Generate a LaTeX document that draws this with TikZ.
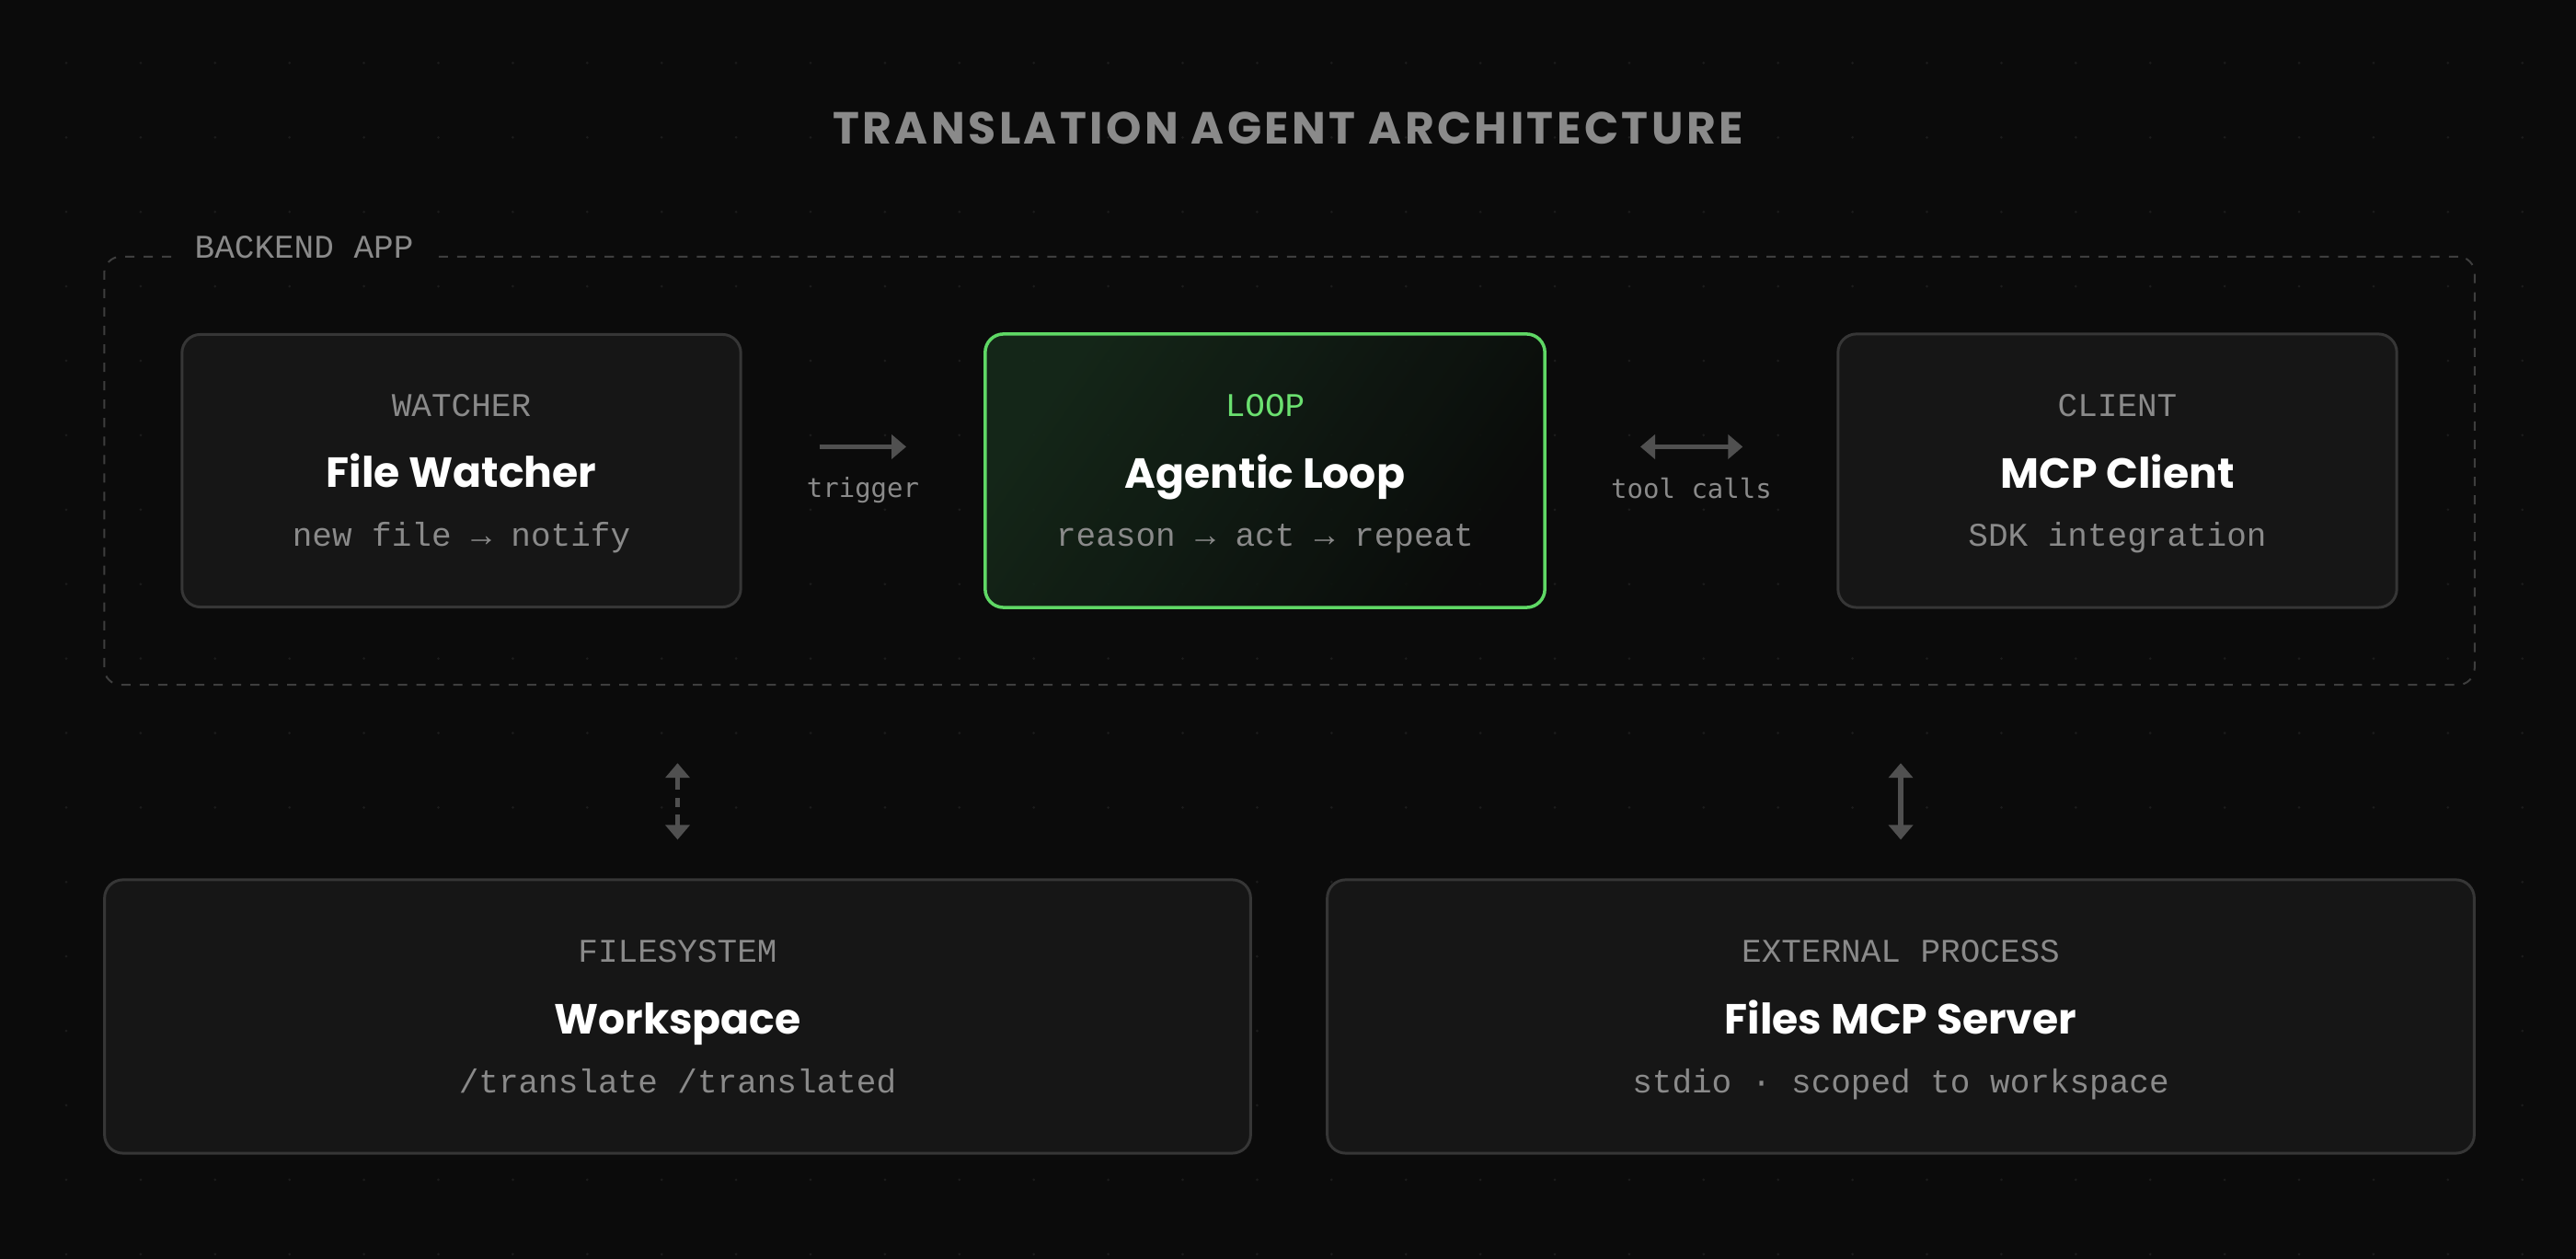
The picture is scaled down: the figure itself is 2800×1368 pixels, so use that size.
\documentclass[tikz,border=0pt]{standalone}
\usepackage{fontspec}
\usetikzlibrary{arrows.meta}
\newfontfamily\headfont{Poppins}
\newfontfamily\titlefont[LetterSpace=7]{Poppins}
\newfontfamily\labfont{Liberation Mono}
\newfontfamily\codefont{DejaVu Sans Mono}
\definecolor{bg}{HTML}{0B0B0B}
\definecolor{dotc}{HTML}{1C1C1C}
\definecolor{boxfill}{HTML}{161616}
\definecolor{boxline}{HTML}{363636}
\definecolor{dashc}{HTML}{3E3E3E}
\definecolor{txtgray}{HTML}{8A8A8A}
\definecolor{arrowc}{HTML}{505050}
\definecolor{loopgreen}{HTML}{5FD865}
\definecolor{looptext}{HTML}{6BE070}
\definecolor{loopA}{HTML}{15291A}
\definecolor{loopM}{HTML}{0F160F}
\definecolor{loopB}{HTML}{0B0C0B}
\tikzset{
  card/.style={draw=boxline, line width=0.85pt, fill=boxfill, rounded corners=0.2cm, inner sep=0pt},
  tag/.style={text=txtgray, font=\labfont\fontsize{10.24pt}{12pt}\selectfont, anchor=base, inner sep=0pt},
  ttl/.style={text=white, font=\headfont\bfseries\fontsize{13pt}{16pt}\selectfont, anchor=base, inner sep=0pt},
  sub/.style={text=txtgray, font=\labfont\fontsize{10.24pt}{12pt}\selectfont, anchor=base, inner sep=0pt},
  conn/.style={text=txtgray, font=\codefont\fontsize{8.25pt}{10pt}\selectfont, anchor=base, inner sep=0pt},
  link/.style={draw=arrowc, line width=1.5pt, >={Triangle[length=4.55pt,width=7.4pt]}},
}
\begin{document}
\begin{tikzpicture}[x=0.01cm, y=-0.01cm]
\useasboundingbox (0,0) rectangle (2800,1368);
\fill[bg] (0,0) rectangle (2800,1368);
% dot grid
\foreach \i in {0,...,33}{
  \foreach \j in {0,...,16}{
    \fill[dotc] ({72+80.9*\i},{68.4+80.9*\j}) circle (0.015cm);
  }
}
% title
\node (title) [text=txtgray, font=\titlefont\bfseries\fontsize{13.9pt}{16pt}\selectfont, anchor=base, inner sep=0pt] at (1400,157) {TRANSLATION AGENT ARCHITECTURE};
% backend group
\node (be) [draw=dashc, line width=0.57pt, dash pattern=on 2.85pt off 2.85pt, rounded corners=0.18cm, minimum width=25.75cm, minimum height=4.65cm, inner sep=0pt] at (1401.5,511.5) {};
\node (belabel) [text=txtgray, font=\labfont\fontsize{10.24pt}{12pt}\selectfont, fill=bg, anchor=base west, inner xsep=0.2cm, inner ysep=0.06cm] at (191,281) {BACKEND APP};
% cards
\node (fw) [card, minimum width=6.07cm, minimum height=2.96cm] at (501.5,511.5) {};
\node (loop) [draw=loopgreen, line width=1pt, rounded corners=0.2cm, inner sep=0pt, top color=loopA, middle color=loopM, bottom color=loopB, shading angle=55, fill opacity=0.9, minimum width=6.08cm, minimum height=2.97cm] at (1375,511.5) {};
\node (client) [card, minimum width=6.07cm, minimum height=2.97cm] at (2301.5,511.5) {};
\node (ws) [card, minimum width=12.45cm, minimum height=2.97cm] at (736.5,1104.5) {};
\node (srv) [card, minimum width=12.46cm, minimum height=2.97cm] at (2066,1104.5) {};
% card texts
\node (fwtag) [tag] at (501.5,452.5) {WATCHER};
\node (fwttl) [ttl] at (501.5,530) {File Watcher};
\node (fwsub) [sub] at (501.5,593.5) {new file → notify};
\node (looptag) [tag, text=looptext] at (1375,453) {LOOP};
\node (loopttl) [ttl] at (1375,530.5) {Agentic Loop};
\node (loopsub) [sub] at (1375,594) {reason → act → repeat};
\node (clienttag) [tag] at (2301.5,453) {CLIENT};
\node (clientttl) [ttl] at (2301.5,530.5) {MCP Client};
\node (clientsub) [sub] at (2301.5,594) {SDK integration};
\node (wstag) [tag] at (736.5,1046) {FILESYSTEM};
\node (wsttl) [ttl] at (736.5,1123.5) {Workspace};
\node (wssub) [sub] at (736.5,1187.5) {/translate /translated};
\node (srvtag) [tag] at (2066,1046) {EXTERNAL PROCESS};
\node (srvttl) [ttl] at (2066,1123.5) {Files MCP Server};
\node (srvsub) [sub] at (2066,1187.5) {stdio · scoped to workspace};
% connectors
\draw[link, ->, shorten <=0.84cm, shorten >=0.84cm] ([yshift=0.26cm]fw.east) -- ([yshift=0.26cm]fw.east -| loop.west);
\node (trig) [conn] at (938,541) {trigger};
\draw[link, <->, shorten <=1.02cm, shorten >=1.02cm] ([yshift=0.26cm]loop.east) -- ([yshift=0.26cm]loop.east -| client.west);
\node (tc) [conn] at (1838.5,542) {tool calls};
\draw[link, <->, dash pattern=on 3.9pt off 2.5pt on 2.8pt off 2.5pt on 6pt, shorten <=0.84cm, shorten >=0.42cm] (ws.north |- be.south) -- (ws.north);
\draw[link, <->, shorten <=0.84cm, shorten >=0.42cm] (srv.north |- be.south) -- (srv.north);
\end{tikzpicture}
\end{document}
